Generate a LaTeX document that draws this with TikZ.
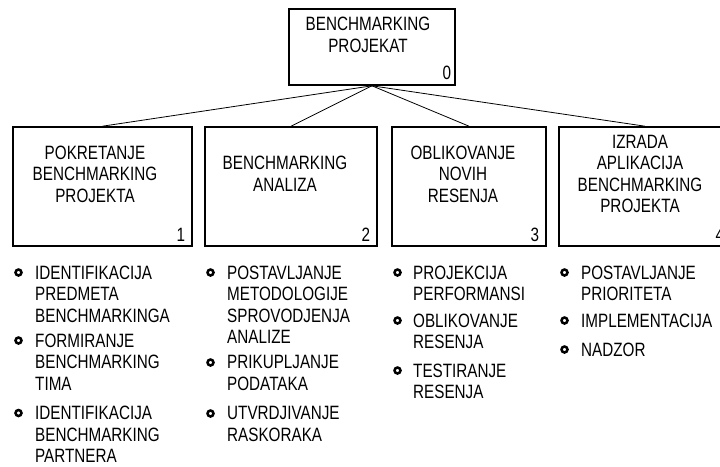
\documentclass[tikz,border=0pt]{standalone}
\usepackage{fontspec}
\setmainfont{Liberation Sans}[FakeStretch=0.79]
\begin{document}
\begin{tikzpicture}[x=1pt,y=-1pt,
  wbs/.style={draw=black,line width=1.6pt,fill=white,inner sep=0pt},
  lbl/.style={inner sep=0pt,align=center,font=\fontsize{19.3}{21.5}\selectfont},
  num/.style={inner sep=0pt,anchor=center,font=\fontsize{19.3}{21.5}\selectfont},
  itm/.style={inner sep=0pt,anchor=north west,align=left,font=\fontsize{19.3}{21.5}\selectfont},
  bul/.style={draw=black,circle,line width=2.5pt,minimum size=6pt,inner sep=0pt},
  link/.style={draw=black,line width=0.8pt}]
\useasboundingbox (0,0) rectangle (720,466);
\clip (0,0) rectangle (720,466);
\fill[white] (0,0) rectangle (720,466);

% work breakdown boxes
\node[wbs,minimum width=166pt,minimum height=76pt] (root) at (372,47) {};
\node[wbs,minimum width=179pt,minimum height=119pt] (p1) at (102.5,186.5) {};
\node[wbs,minimum width=172pt,minimum height=119pt] (p2) at (291,186.5) {};
\node[wbs,minimum width=154pt,minimum height=119pt] (p3) at (469,186.5) {};
\node[wbs,minimum width=172pt,minimum height=119pt] (p4) at (645,186.5) {};

% connectors from the root
\foreach \c in {p1,p2,p3,p4}
  \draw[link] (root.south) -- (\c.north);

% box titles
\node[lbl] (t0) at (368,35) {BENCHMARKING\\PROJEKAT};
\node[lbl] (t1) at (95,174) {POKRETANJE\\BENCHMARKING\\PROJEKTA};
\node[lbl] (t2) at (285,174) {BENCHMARKING\\ANALIZA};
\node[lbl] (t3) at (463,174) {OBLIKOVANJE\\NOVIH\\RESENJA};
\node[lbl] (t4) at (640,174) {IZRADA\\APLIKACIJA\\BENCHMARKING\\PROJEKTA};

% box numbers
\node[num] (n0) at ([shift={(-9,-13)}]root.south east) {0};
\node[num] (n1) at ([shift={(-12,-12)}]p1.south east) {1};
\node[num] (n2) at ([shift={(-12,-12)}]p2.south east) {2};
\node[num] (n3) at ([shift={(-12,-12)}]p3.south east) {3};
\node[num] (n4) at ([shift={(-12,-12)}]p4.south east) {4};

% activity lists
\node[bul] (d11) at (18.5,272.5) {};
\node[itm] (i11) at (35,265.5) {IDENTIFIKACIJA\\PREDMETA\\BENCHMARKINGA};
\node[bul] (d12) at (18.5,340.5) {};
\node[itm] (i12) at (35,333.5) {FORMIRANJE\\BENCHMARKING\\TIMA};
\node[bul] (d13) at (18.5,413) {};
\node[itm] (i13) at (35,406) {IDENTIFIKACIJA\\BENCHMARKING\\PARTNERA};

\node[bul] (d21) at (210.5,272.5) {};
\node[itm] (i21) at (227,265.5) {POSTAVLJANJE\\METODOLOGIJE\\SPROVODJENJA\\ANALIZE};
\node[bul] (d22) at (210.5,362.5) {};
\node[itm] (i22) at (227,355.5) {PRIKUPLJANJE\\PODATAKA};
\node[bul] (d23) at (210.5,413.5) {};
\node[itm] (i23) at (227,406.5) {UTVRDJIVANJE\\RASKORAKA};

\node[bul] (d31) at (397.5,272.5) {};
\node[itm] (i31) at (413,265.5) {PROJEKCIJA\\PERFORMANSI};
\node[bul] (d32) at (397.5,320.5) {};
\node[itm] (i32) at (413,313.5) {OBLIKOVANJE\\RESENJA};
\node[bul] (d33) at (397.5,370.5) {};
\node[itm] (i33) at (413,363.5) {TESTIRANJE\\RESENJA};

\node[bul] (d41) at (564.5,272.5) {};
\node[itm] (i41) at (581,265.5) {POSTAVLJANJE\\PRIORITETA};
\node[bul] (d42) at (564.5,320.5) {};
\node[itm] (i42) at (581,313.5) {IMPLEMENTACIJA};
\node[bul] (d43) at (564.5,349.5) {};
\node[itm] (i43) at (581,342.5) {NADZOR};
\end{tikzpicture}
\end{document}
